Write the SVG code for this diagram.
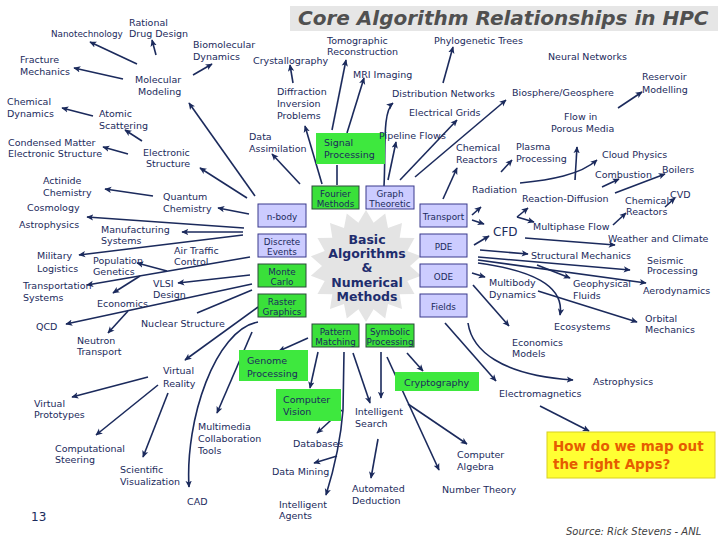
<svg xmlns="http://www.w3.org/2000/svg" width="720" height="540" viewBox="0 0 720 540">
<defs>
<style>
.t{font-family:"DejaVu Sans",Verdana,sans-serif;font-size:9.5px;fill:#1b2a5c}
.bt{font-family:"DejaVu Sans",Verdana,sans-serif;font-size:8.8px;fill:#1b2a5c;text-anchor:middle}
.c{stroke:#1b2a5c;stroke-width:1.6;fill:none;marker-end:url(#ah)}
.cn{stroke:#1b2a5c;stroke-width:1.6;fill:none}
.bl{fill:#ccccff;stroke:#3a3a8c;stroke-width:1}
.bg{fill:#3ae03a;stroke:#2a4a3a;stroke-width:1}
.gg{fill:#3ee83e}
</style>
<marker id="ah" viewBox="0 0 10 10" refX="9" refY="5" markerWidth="7" markerHeight="7" markerUnits="userSpaceOnUse" orient="auto"><path d="M0,0.5 L10,5 L0,9.5 L2.5,5 z" fill="#1b2a5c"/></marker>
</defs>
<rect width="720" height="540" fill="#ffffff"/>
<g id="title">
<rect x="290" y="6" width="428" height="25" fill="#e6e6e6"/>
<text x="298" y="25" style="font-family:'DejaVu Sans',Verdana,sans-serif;font-size:20px;font-weight:bold;font-style:italic;fill:#505050">Core Algorithm Relationships in HPC</text>
</g>
<g id="star">
<polygon fill="#e4e4e4" points="366,210 373.6,222.7 385.2,213.4 388,227.9 402,223.1 399.7,237.7 414.5,238 407.3,251 421.1,256.3 410,266 421.1,275.7 407.3,281 414.5,294 399.7,294.3 402,308.9 388,304.1 385.2,318.6 373.6,309.3 366,322 358.4,309.3 346.8,318.6 344,304.1 330,308.9 332.3,294.3 317.5,294 324.7,281 310.9,275.7 322,266 310.9,256.3 324.7,251 317.5,238 332.3,237.7 330,223.1 344,227.9 346.8,213.4 358.4,222.7"/>
<text text-anchor="middle" style="font-family:'DejaVu Sans',Verdana,sans-serif;font-size:12.5px;font-weight:bold;fill:#1e2d6e"><tspan x="367" y="244">Basic</tspan><tspan x="367" y="258">Algorithms</tspan><tspan x="367" y="272">&amp;</tspan><tspan x="367" y="287">Numerical</tspan><tspan x="367" y="301">Methods</tspan></text>
</g>
<g id="connectors">
<path class="c" d="M137,64 L90,42"/>
<path class="c" d="M156,55 L152,40"/>
<path class="c" d="M123,79 L74,68"/>
<path class="c" d="M193,75 L212,64"/>
<path class="c" d="M93,116 L62,108"/>
<path class="c" d="M142,141 L125,130"/>
<path class="c" d="M128,154 L103,147"/>
<path class="c" d="M255,196 L189,103"/>
<path class="c" d="M247,198 L200,168"/>
<path class="c" d="M249,214 L218,208"/>
<path class="c" d="M153,196 L105,189"/>
<path class="c" d="M244,228 L87,217"/>
<path class="c" d="M243,232 L182,232"/>
<path class="c" d="M243,235 L79,255"/>
<path class="c" d="M250,257 L87,285"/>
<path class="c" d="M167,271 L137,263"/>
<path class="c" d="M140,276 L113,293"/>
<path class="c" d="M250,275 L178,283"/>
<path class="c" d="M252,284 L66,324"/>
<path class="c" d="M128,311 L108,333"/>
<path class="cn" d="M252,290 L197,313"/>
<path class="c" d="M258,307 L185,360"/>
<path class="c" d="M258,322 C215,330 185,420 189,487"/>
<path class="c" d="M252,332 L217,413"/>
<path class="c" d="M148,377 L72,397"/>
<path class="c" d="M158,385 L96,435"/>
<path class="c" d="M168,393 L143,457"/>
<path class="c" d="M308,338 L279,351"/>
<path class="c" d="M318,352 L310,388"/>
<path class="c" d="M344,352 L343,410 Q340,450 326,495"/>
<path class="c" d="M342,410 L317,433"/>
<path class="c" d="M337,456 L314,463"/>
<path class="c" d="M353,353 L370,403"/>
<path class="c" d="M381,352 L381,398"/>
<path class="c" d="M407,353 L423,371"/>
<path class="c" d="M387,357 L439,470"/>
<path class="c" d="M408,404 L467,444"/>
<path class="c" d="M378,439 L371,478"/>
<path class="c" d="M445,323 L496,381"/>
<path class="c" d="M468,323 C472,350 500,375 573,380"/>
<path class="c" d="M540,406 L589,431"/>
<path class="c" d="M473,285 L509,326"/>
<path class="c" d="M472,273 L485,277"/>
<path class="c" d="M474,245 L489,236"/>
<path class="c" d="M472,215 L481,207"/>
<path class="c" d="M472,220 L484,224"/>
<path class="c" d="M443,199 L457,168"/>
<path class="c" d="M480,250 L528,254"/>
<path class="c" d="M478,257 L630,270"/>
<path class="c" d="M478,260 L646,283"/>
<path class="c" d="M478,263 C530,270 565,285 560,315"/>
<path class="c" d="M537,265 L570,278"/>
<path class="c" d="M538,291 L637,322"/>
<path class="c" d="M525,238 L615,245"/>
<path class="c" d="M517,217 L528,208"/>
<path class="c" d="M517,217 L534,222"/>
<path class="c" d="M613,225 L626,213"/>
<path class="c" d="M615,193 L665,174"/>
<path class="c" d="M665,207 L675,198"/>
<path class="c" d="M602,187 L619,179"/>
<path class="c" d="M520,183 C550,180 580,175 597,160"/>
<path class="c" d="M575,180 L577,147"/>
<path class="c" d="M501,172 L512,160"/>
<path class="c" d="M618,108 L642,92"/>
<path class="c" d="M415,177 L506,100"/>
<path class="c" d="M400,180 L457,120"/>
<path class="c" d="M388,180 L396,142"/>
<path class="c" d="M384,186 C386,150 382,112 393,103"/>
<path class="c" d="M347,133 L364,78"/>
<path class="c" d="M332,130 L346,60"/>
<path class="c" d="M293,83 L290,65"/>
<path class="c" d="M443,83 L453,47"/>
<path class="c" d="M322,184 L305,126"/>
<path class="c" d="M300,184 L272,154"/>
<path class="cn" d="M337,185 L337,165"/>
</g>
<g id="n_fourier"><rect class="bg" x="312" y="186" width="47" height="23"/><text class="bt"><tspan x="335.5" y="196.5">Fourier</tspan><tspan x="335.5" y="207">Methods</tspan></text></g>
<g id="n_graph"><rect class="bl" x="366" y="186" width="48" height="23"/><text class="bt"><tspan x="390" y="196.5">Graph</tspan><tspan x="390" y="207">Theoretic</tspan></text></g>
<g id="n_nbody"><rect class="bl" x="258" y="204" width="48" height="23"/><text class="bt" x="282" y="219.5">n-body</text></g>
<g id="n_discrete"><rect class="bl" x="258" y="234" width="48" height="23"/><text class="bt"><tspan x="282" y="244.5">Discrete</tspan><tspan x="282" y="255">Events</tspan></text></g>
<g id="n_monte"><rect class="bg" x="258" y="264" width="48" height="23"/><text class="bt"><tspan x="282" y="274.5">Monte</tspan><tspan x="282" y="285">Carlo</tspan></text></g>
<g id="n_raster"><rect class="bg" x="258" y="294" width="48" height="23"/><text class="bt"><tspan x="282" y="304.5">Raster</tspan><tspan x="282" y="315">Graphics</tspan></text></g>
<g id="n_transport"><rect class="bl" x="420" y="204" width="47" height="23"/><text class="bt" x="443.5" y="219.5">Transport</text></g>
<g id="n_pde"><rect class="bl" x="420" y="234" width="47" height="23"/><text class="bt" x="443.5" y="249.5">PDE</text></g>
<g id="n_ode"><rect class="bl" x="420" y="264" width="47" height="23"/><text class="bt" x="443.5" y="279.5">ODE</text></g>
<g id="n_fields"><rect class="bl" x="420" y="294" width="47" height="23"/><text class="bt" x="443.5" y="309.5">Fields</text></g>
<g id="n_pattern"><rect class="bg" x="312" y="324" width="47" height="23"/><text class="bt"><tspan x="335.5" y="334.5">Pattern</tspan><tspan x="335.5" y="345">Matching</tspan></text></g>
<g id="n_symbolic"><rect class="bg" x="366" y="324" width="48" height="23"/><text class="bt"><tspan x="390" y="334.5">Symbolic</tspan><tspan x="390" y="345">Processing</tspan></text></g>
<g id="n_signal"><rect class="gg" x="316" y="133" width="69" height="31"/><text class="t"><tspan x="324" y="146">Signal</tspan><tspan x="324" y="157.5">Processing</tspan></text></g>
<g id="n_genome"><rect class="gg" x="239" y="350" width="69" height="31"/><text class="t"><tspan x="247" y="364">Genome</tspan><tspan x="247" y="376.5">Processing</tspan></text></g>
<g id="n_cv"><rect class="gg" x="276" y="389" width="65" height="32"/><text class="t"><tspan x="283" y="403">Computer</tspan><tspan x="283" y="415">Vision</tspan></text></g>
<g id="n_crypto"><rect class="gg" x="395" y="372" width="84" height="19"/><text class="t" x="404" y="385.5">Cryptography</text></g>
<g id="n_question"><rect x="547" y="432" width="168" height="46" fill="#ffff33" stroke="#d8d020" stroke-width="1"/><text style="font-family:'DejaVu Sans',Verdana,sans-serif;font-size:13.5px;font-weight:bold;fill:#e65c00"><tspan x="553" y="451">How do we map out</tspan><tspan x="553" y="469">the right Apps?</tspan></text></g>
<g id="n_rational"><text class="t"><tspan x="129" y="25.5">Rational</tspan><tspan x="129" y="36.5">Drug Design</tspan></text></g>
<g id="n_nano"><text class="t" x="51" y="37" style="font-size:8.8px">Nanotechnology</text></g>
<g id="n_biomol"><text class="t"><tspan x="193" y="48">Biomolecular</tspan><tspan x="193" y="60">Dynamics</tspan></text></g>
<g id="n_fracture"><text class="t"><tspan x="20" y="63">Fracture</tspan><tspan x="20" y="74.5">Mechanics</tspan></text></g>
<g id="n_molmod"><text class="t"><tspan x="135" y="83">Molecular</tspan><tspan x="138" y="94.5">Modeling</tspan></text></g>
<g id="n_chemdyn"><text class="t"><tspan x="7" y="105">Chemical</tspan><tspan x="7" y="117">Dynamics</tspan></text></g>
<g id="n_atomic"><text class="t"><tspan x="99" y="117">Atomic</tspan><tspan x="99" y="128.5">Scattering</tspan></text></g>
<g id="n_condensed"><text class="t"><tspan x="8" y="146">Condensed Matter</tspan><tspan x="8" y="157">Electronic Structure</tspan></text></g>
<g id="n_elec"><text class="t"><tspan x="143" y="156">Electronic</tspan><tspan x="146" y="166.5">Structure</tspan></text></g>
<g id="n_actinide"><text class="t"><tspan x="43" y="184">Actinide</tspan><tspan x="43" y="196">Chemistry</tspan></text></g>
<g id="n_quantum"><text class="t"><tspan x="163" y="200">Quantum</tspan><tspan x="163" y="211.5">Chemistry</tspan></text></g>
<g id="n_cosmo"><text class="t" x="27" y="210.5">Cosmology</text></g>
<g id="n_astro1"><text class="t" x="19" y="227.5">Astrophysics</text></g>
<g id="n_manuf"><text class="t"><tspan x="101" y="232.5">Manufacturing</tspan><tspan x="101" y="244">Systems</tspan></text></g>
<g id="n_air"><text class="t"><tspan x="174" y="253.5">Air Traffic</tspan><tspan x="174" y="265">Control</tspan></text></g>
<g id="n_military"><text class="t"><tspan x="37" y="259">Military</tspan><tspan x="37" y="271.5">Logistics</tspan></text></g>
<g id="n_popgen"><text class="t"><tspan x="93" y="263.5">Population</tspan><tspan x="93" y="274.5">Genetics</tspan></text></g>
<g id="n_transp"><text class="t"><tspan x="23" y="289">Transportation</tspan><tspan x="23" y="301">Systems</tspan></text></g>
<g id="n_vlsi"><text class="t"><tspan x="153" y="286.5">VLSI</tspan><tspan x="153" y="297.5">Design</tspan></text></g>
<g id="n_econ"><text class="t" x="97" y="306.5">Economics</text></g>
<g id="n_qcd"><text class="t" x="36" y="329.5">QCD</text></g>
<g id="n_nuclear"><text class="t" x="141" y="326.5">Nuclear Structure</text></g>
<g id="n_neutron"><text class="t"><tspan x="77" y="343.5">Neutron</tspan><tspan x="77" y="355">Transport</tspan></text></g>
<g id="n_vr"><text class="t"><tspan x="163" y="374">Virtual</tspan><tspan x="163" y="386.5">Reality</tspan></text></g>
<g id="n_vproto"><text class="t"><tspan x="34" y="406.5">Virtual</tspan><tspan x="34" y="418">Prototypes</tspan></text></g>
<g id="n_compsteer"><text class="t"><tspan x="55" y="451.5">Computational</tspan><tspan x="55" y="463">Steering</tspan></text></g>
<g id="n_scivis"><text class="t"><tspan x="120" y="473">Scientific</tspan><tspan x="120" y="485">Visualization</tspan></text></g>
<g id="n_cad"><text class="t" x="187" y="505">CAD</text></g>
<g id="n_multimedia"><text class="t"><tspan x="198" y="430">Multimedia</tspan><tspan x="198" y="442">Collaboration</tspan><tspan x="198" y="454">Tools</tspan></text></g>
<g id="n_isearch"><text class="t"><tspan x="355" y="415">Intelligent</tspan><tspan x="355" y="427">Search</tspan></text></g>
<g id="n_db"><text class="t" x="293" y="446.5">Databases</text></g>
<g id="n_dm"><text class="t" x="272" y="474.5">Data Mining</text></g>
<g id="n_ad"><text class="t"><tspan x="352" y="491.5">Automated</tspan><tspan x="352" y="504">Deduction</tspan></text></g>
<g id="n_ia"><text class="t"><tspan x="279" y="507.5">Intelligent</tspan><tspan x="279" y="519">Agents</tspan></text></g>
<g id="n_ca"><text class="t"><tspan x="457" y="458">Computer</tspan><tspan x="457" y="470">Algebra</tspan></text></g>
<g id="n_nt"><text class="t" x="442" y="493">Number Theory</text></g>
<g id="n_astro2"><text class="t" x="593" y="385">Astrophysics</text></g>
<g id="n_em"><text class="t" x="499" y="397">Electromagnetics</text></g>
<g id="n_econmodels"><text class="t"><tspan x="512" y="346">Economics</tspan><tspan x="512" y="357">Models</tspan></text></g>
<g id="n_orbital"><text class="t"><tspan x="645" y="321.5">Orbital</tspan><tspan x="645" y="332.5">Mechanics</tspan></text></g>
<g id="n_eco"><text class="t" x="554" y="330">Ecosystems</text></g>
<g id="n_aero"><text class="t" x="643" y="294">Aerodynamics</text></g>
<g id="n_geofl"><text class="t"><tspan x="573" y="287">Geophysical</tspan><tspan x="573" y="299">Fluids</tspan></text></g>
<g id="n_multibody"><text class="t"><tspan x="489" y="286">Multibody</tspan><tspan x="489" y="298">Dynamics</tspan></text></g>
<g id="n_seismic"><text class="t"><tspan x="647" y="263.5">Seismic</tspan><tspan x="647" y="274">Processing</tspan></text></g>
<g id="n_struct"><text class="t" x="531" y="258.5">Structural Mechanics</text></g>
<g id="n_weather"><text class="t" x="608" y="242">Weather and Climate</text></g>
<g id="n_cfd"><text class="t" x="493" y="236" style="font-size:12px">CFD</text></g>
<g id="n_multiphase"><text class="t" x="533" y="230">Multiphase Flow</text></g>
<g id="n_chemreact2"><text class="t"><tspan x="625" y="203.5">Chemical</tspan><tspan x="626" y="215">Reactors</tspan></text></g>
<g id="n_cvd"><text class="t" x="670" y="197.5">CVD</text></g>
<g id="n_rd"><text class="t" x="522" y="201.5">Reaction-Diffusion</text></g>
<g id="n_radiation"><text class="t" x="472" y="192.5">Radiation</text></g>
<g id="n_combustion"><text class="t" x="595" y="178">Combustion</text></g>
<g id="n_boilers"><text class="t" x="662" y="172.5">Boilers</text></g>
<g id="n_cloud"><text class="t" x="602" y="158">Cloud Physics</text></g>
<g id="n_plasma"><text class="t"><tspan x="516" y="150">Plasma</tspan><tspan x="516" y="162">Processing</tspan></text></g>
<g id="n_chemreact1"><text class="t"><tspan x="456" y="151">Chemical</tspan><tspan x="456" y="163">Reactors</tspan></text></g>
<g id="n_flow"><text class="t"><tspan x="564" y="120">Flow in</tspan><tspan x="551" y="132">Porous Media</tspan></text></g>
<g id="n_biosphere"><text class="t" x="512" y="96">Biosphere/Geosphere</text></g>
<g id="n_reservoir"><text class="t"><tspan x="642" y="80">Reservoir</tspan><tspan x="642" y="92.5">Modelling</tspan></text></g>
<g id="n_neural"><text class="t" x="548" y="60">Neural Networks</text></g>
<g id="n_phylo"><text class="t" x="434" y="44">Phylogenetic Trees</text></g>
<g id="n_tomo"><text class="t"><tspan x="327" y="43.5">Tomographic</tspan><tspan x="327" y="55">Reconstruction</tspan></text></g>
<g id="n_crystal"><text class="t" x="253" y="63.5">Crystallography</text></g>
<g id="n_mri"><text class="t" x="353" y="77.5">MRI Imaging</text></g>
<g id="n_diffr"><text class="t"><tspan x="277" y="95">Diffraction</tspan><tspan x="277" y="107">Inversion</tspan><tspan x="277" y="119">Problems</tspan></text></g>
<g id="n_distnet"><text class="t" x="392" y="97">Distribution Networks</text></g>
<g id="n_elecgrid"><text class="t" x="409" y="116">Electrical Grids</text></g>
<g id="n_dataassim"><text class="t"><tspan x="249" y="140">Data</tspan><tspan x="249" y="152">Assimilation</tspan></text></g>
<g id="n_pipeline"><text class="t" x="379" y="139">Pipeline Flows</text></g>
<g id="footer">
<text x="31" y="521" style="font-family:'DejaVu Sans',Verdana,sans-serif;font-size:12px;fill:#1b2a5c">13</text>
<text x="566" y="535" style="font-family:'DejaVu Sans',Verdana,sans-serif;font-size:10px;font-style:italic;fill:#404040">Source: Rick Stevens - ANL</text>
</g>
</svg>
